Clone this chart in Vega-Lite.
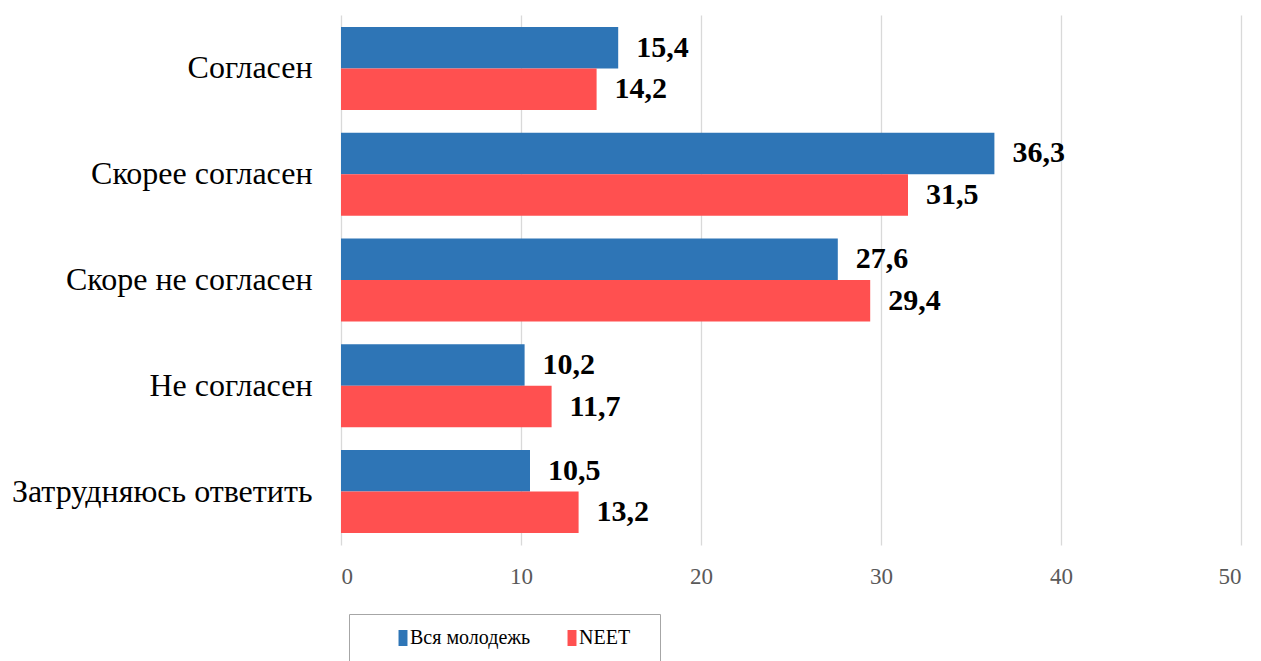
{
  "$schema": "https://vega.github.io/schema/vega-lite/v6.json",
  "autosize": "none",
  "width": 900,
  "height": 530,
  "padding": {"left": 341, "top": 15, "right": 20, "bottom": 116},
  "background": "white",
  "config": {
    "locale": {"number": {"decimal": ",", "thousands": " ", "grouping": [3], "currency": ["", ""]}},
    "view": {"stroke": null},
    "font": "Liberation Serif",
    "axis": {"labelFont": "Liberation Serif"},
    "legend": {"labelFont": "Liberation Serif"}
  },
  "data": {
    "values": [
      {"cat": "Согласен", "group": "Вся молодежь", "value": 15.4},
      {"cat": "Согласен", "group": "NEET", "value": 14.2},
      {"cat": "Скорее согласен", "group": "Вся молодежь", "value": 36.3},
      {"cat": "Скорее согласен", "group": "NEET", "value": 31.5},
      {"cat": "Скоре не согласен", "group": "Вся молодежь", "value": 27.6},
      {"cat": "Скоре не согласен", "group": "NEET", "value": 29.4},
      {"cat": "Не согласен", "group": "Вся молодежь", "value": 10.2},
      {"cat": "Не согласен", "group": "NEET", "value": 11.7},
      {"cat": "Затрудняюсь ответить", "group": "Вся молодежь", "value": 10.5},
      {"cat": "Затрудняюсь ответить", "group": "NEET", "value": 13.2}
    ]
  },
  "encoding": {
    "y": {
      "field": "cat", "type": "nominal", "sort": null,
      "scale": {"paddingInner": 0.215, "paddingOuter": 0.113},
      "axis": {"title": null, "domain": false, "ticks": false, "labelPadding": 29, "labelFontSize": 32, "labelColor": "#000000", "labelFont": "Liberation Serif", "labelLimit": 400}
    },
    "yOffset": {"field": "group", "type": "nominal", "sort": ["Вся молодежь", "NEET"], "scale": {"paddingInner": 0, "paddingOuter": 0}},
    "x": {
      "field": "value", "type": "quantitative",
      "scale": {"domain": [0, 50], "nice": false},
      "axis": {"title": null, "values": [0, 10, 20, 30, 40, 50], "labelOverlap": false, "domain": false, "ticks": false, "grid": true, "gridColor": "#d9d9d9", "gridWidth": 1.3, "labelPadding": 20, "labelFontSize": 23, "labelColor": "#595959", "labelFont": "Liberation Serif"}
    }
  },
  "layer": [
    {
      "mark": {"type": "bar"},
      "encoding": {
        "color": {
          "field": "group", "type": "nominal", "sort": ["Вся молодежь", "NEET"],
          "scale": {"domain": ["Вся молодежь", "NEET"], "range": ["#2E75B6", "#FF5050"]},
          "legend": {
            "title": null, "orient": "none", "direction": "horizontal",
            "legendX": 8, "legendY": 599,
            "strokeColor": "#a6a6a6", "padding": 14,
            "symbolType": "M-0.56,-1L0.56,-1L0.56,1L-0.56,1Z", "symbolSize": 256, "symbolStrokeWidth": 0,
            "labelFontSize": 20, "labelFont": "Liberation Serif", "labelColor": "#000000", "labelOffset": -3,
            "columnPadding": 1, "symbolOffset": 30,
            "labelExpr": "datum.label == 'NEET' ? 'NEET\u2800' : datum.label"
          }
        }
      }
    },
    {
      "mark": {"type": "text", "align": "left", "baseline": "middle", "dx": 18, "fontSize": 30, "fontWeight": "bold", "font": "Liberation Serif", "color": "#000000"},
      "encoding": {
        "text": {"field": "value", "type": "quantitative", "format": ".1f"}
      }
    }
  ]
}
